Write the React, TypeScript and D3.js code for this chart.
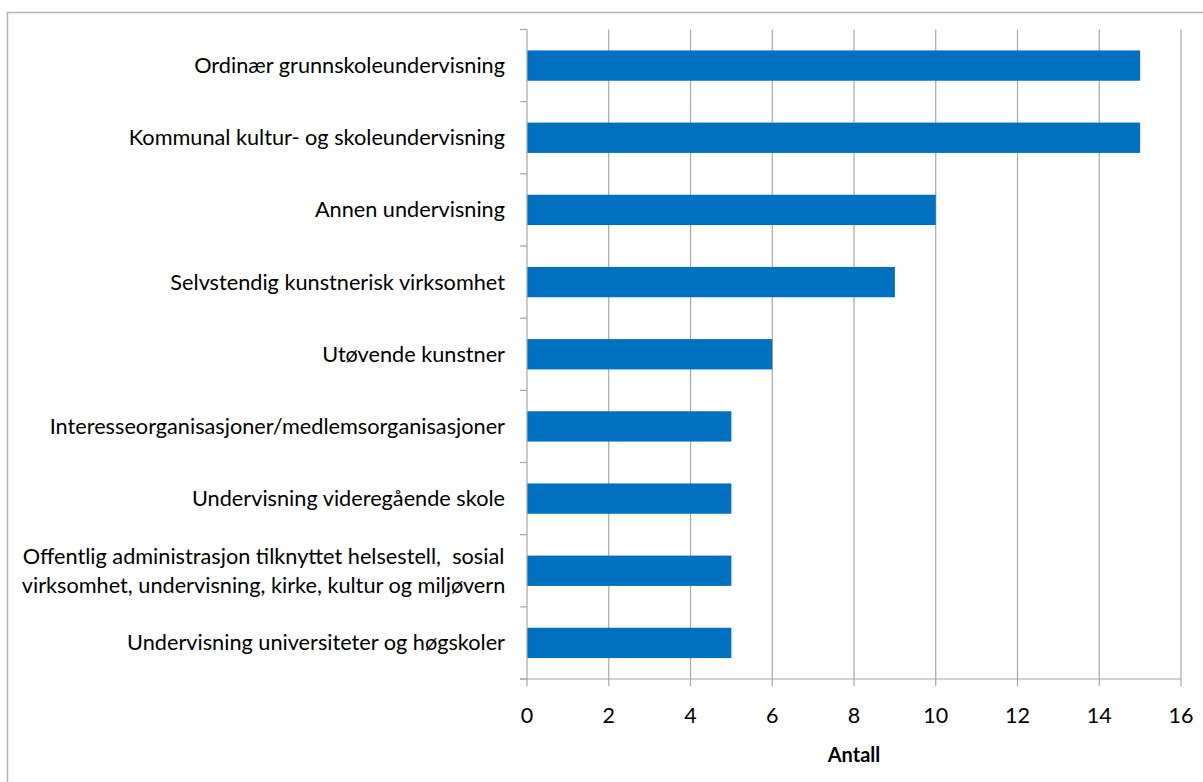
import React from 'react';
import * as d3 from 'd3';

const categories = [
  'Ordinær grunnskoleundervisning',
  'Kommunal kultur- og skoleundervisning',
  'Annen undervisning',
  'Selvstendig kunstnerisk virksomhet',
  'Utøvende kunstner',
  'Interesseorganisasjoner/medlemsorganisasjoner',
  'Undervisning videregående skole',
  'Offentlig administrasjon tilknyttet helsestell,  sosial\nvirksomhet, undervisning, kirke, kultur og miljøvern',
  'Undervisning universiteter og høgskoler',
];
const values = [15, 15, 10, 9, 6, 5, 5, 5, 5];
const xTicks = [0, 2, 4, 6, 8, 10, 12, 14, 16];
const xTitle = 'Antall';

const W = 1203;
const H = 782;
const left = 527;
const right = 1181;
const top = 29.5;
const bottom = 679;
const font = 'Lato, "Open Sans", sans-serif';
const grid = '#a6a6a6';

const App: React.FC = () => {
  const x = d3.scaleLinear().domain([0, 16]).range([left, right]);
  const y = d3.scaleBand<number>()
    .domain(d3.range(categories.length))
    .range([top, bottom])
    .paddingInner(0.58)
    .paddingOuter(0.29);
  const step = (bottom - top) / categories.length;

  return (
    <svg width={W} height={H} style={{ position: 'absolute', left: 0, top: 0 }} fontFamily={font}>
      <rect x={0} y={0} width={W} height={H} fill="#fff" />
      <rect x={7.5} y={12.5} width={1400} height={1000} fill="none" stroke="#b3b3b3" strokeWidth={1.5} />

      {/* vertical gridlines */}
      {xTicks.filter(t => t > 0).map(t => (
        <line key={'g' + t} x1={x(t)} x2={x(t)} y1={top} y2={bottom} stroke={grid} strokeWidth={1.2} />
      ))}

      {/* bars */}
      {values.map((v, i) => (
        <rect key={i} x={x(0)} y={y(i)!} width={x(v) - x(0)} height={y.bandwidth()} fill="#0070c0" />
      ))}

      {/* y axis */}
      <line x1={left} x2={left} y1={top} y2={bottom} stroke={grid} strokeWidth={1.2} />
      {d3.range(categories.length + 1).map(i => (
        <line key={'yt' + i} x1={left - 7} x2={left} y1={top + i * step} y2={top + i * step} stroke={grid} strokeWidth={1.2} />
      ))}

      {/* x axis */}
      <line x1={left - 7} x2={right} y1={bottom} y2={bottom} stroke={grid} strokeWidth={1.2} />
      {xTicks.map(t => (
        <g key={'xt' + t}>
          <line x1={x(t)} x2={x(t)} y1={bottom} y2={bottom + 7} stroke={grid} strokeWidth={1.2} />
          <text x={x(t)} y={723} textAnchor="middle" fontSize={21.5} fill="#000">{t}</text>
        </g>
      ))}
      <text x={(left + right) / 2} y={762} textAnchor="middle" fontSize={20} fontWeight="bold" fill="#000">{xTitle}</text>

      {/* category labels */}
      {categories.map((c, i) => {
        const lines = c.split('\n');
        const cy = y(i)! + y.bandwidth() / 2;
        const lh = 29;
        return (
          <text key={'c' + i} fontSize={21.7} fill="#000" style={{ whiteSpace: 'pre' }}
            textAnchor={lines.length > 1 ? 'middle' : 'end'}>
            {lines.map((l, j) => (
              <tspan key={j} x={lines.length > 1 ? 263.5 : 505} y={cy + 7.5 + (j - (lines.length - 1) / 2) * lh}>{l}</tspan>
            ))}
          </text>
        );
      })}
    </svg>
  );
};

export default App;
